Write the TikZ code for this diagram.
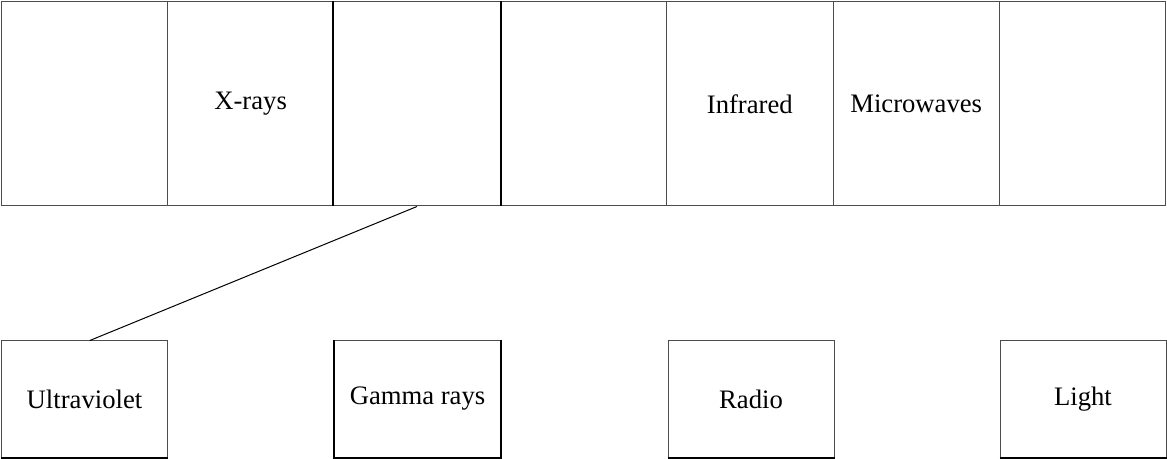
\documentclass[tikz,border=0pt]{standalone}
\usepackage{fontspec}
\setmainfont{Liberation Serif}
\usetikzlibrary{positioning}

\begin{document}
\begin{tikzpicture}[x=0.75pt,y=-0.75pt,
    band/.style={draw=black!70, line width=0.75pt, rectangle, inner sep=0pt,
        minimum width=124.8pt, minimum height=153pt, font=\fontsize{20}{24}\selectfont},
    kind/.style={draw=black!70, line width=0.75pt, rectangle, inner sep=0pt,
        minimum width=124.5pt, minimum height=87pt, font=\fontsize{20}{24}\selectfont},
    edge/.style={black, line width=1.5pt}]
            \useasboundingbox (0,0) rectangle (1167,459);
            % top row of the spectrum
            \node[band] (b1) at (84.2,104) {};
            \node[band] (b2) at (250.6,104) {X-rays};
            \node[band] (b3) at (417.0,104) {};
            \node[band] (b4) at (583.4,104) {};
            \node[band] (b5) at (749.8,104) {Infrared};
            \node[band] (b6) at (916.2,104) {Microwaves};
            \node[band] (b7) at (1082.6,104) {};
            \draw[edge] (b3.north west) -- (b3.south west);
            \draw[edge] (b3.north east) -- (b3.south east);

            % boxes underneath
            \node[kind] (uv) at (84.5,399) {Ultraviolet};
            \node[kind] (gamma) at (417.5,399) {Gamma rays};
            \node[kind] (radio) at (751,399) {Radio};
            \node[kind] (light) at (1083,399) {Light};
            \draw[edge] (uv.south west) -- (uv.south east);
            \draw[edge] (gamma.north west) -- (gamma.south west) -- (gamma.south east) -- (gamma.north east);
            \draw[edge] (radio.south west) -- (radio.south east);
            \draw[edge] (light.south west) -- (light.south east);

            \draw[black, line width=0.75pt] (b3.south) -- ([xshift=4pt]uv.north);
        \end{tikzpicture}
\end{document}
